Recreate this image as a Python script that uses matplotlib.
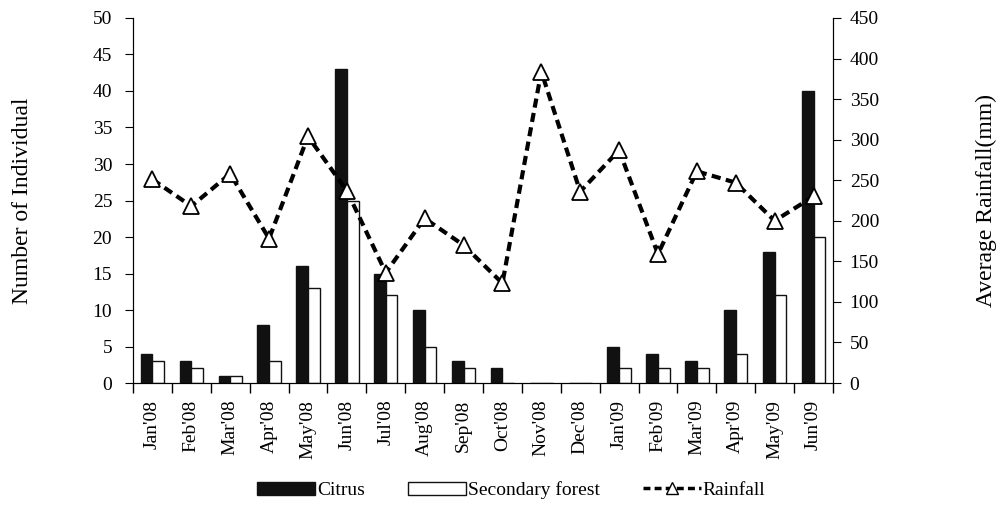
import numpy as np
import matplotlib.pyplot as plt
from matplotlib.lines import Line2D
from matplotlib.patches import Patch

plt.rcParams['font.family'] = ['Liberation Serif', 'DejaVu Serif']

months = ["Jan'08", "Feb'08", "Mar'08", "Apr'08", "May'08", "Jun'08", "Jul'08",
          "Aug'08", "Sep'08", "Oct'08", "Nov'08", "Dec'08", "Jan'09", "Feb'09",
          "Mar'09", "Apr'09", "May'09", "Jun'09"]
citrus = [4, 3, 1, 8, 16, 43, 15, 10, 3, 2, 0, 0, 5, 4, 3, 10, 18, 40]
secondary = [3, 2, 1, 3, 13, 25, 12, 5, 2, 0, 0, 0, 2, 2, 2, 4, 12, 20]
rainfall = [251, 218, 258, 178, 304, 237, 136, 203, 170, 123, 384, 236,
            287, 159, 261, 247, 200, 230]

fig = plt.figure(figsize=(10.02, 5.08), dpi=100)
ax = fig.add_axes([0.1327, 0.246, 0.6986, 0.7186])
x = np.arange(len(months))
w = 0.3
ax.bar(x - w / 2, citrus, w, color='#111111', edgecolor='#111111', linewidth=1)
ax.bar(x + w / 2, secondary, w, color='white', edgecolor='#111111', linewidth=1)
ax.set_xlim(-0.5, len(months) - 0.5)
ax.set_ylim(0, 50)
ax.set_yticks(range(0, 51, 5))
ax.set_xticks(np.arange(-0.5, len(months), 1), minor=False)
ax.set_xticklabels([])
ax.set_xticks(x, minor=True)
ax.set_xticklabels(months, minor=True, rotation=90, fontsize=14)
ax.tick_params(axis='x', which='major', direction='out', length=7, width=1)
ax.tick_params(axis='x', which='minor', length=0, pad=12)
ax.tick_params(axis='y', direction='out', length=6, labelsize=14, pad=9)
ax.spines['top'].set_visible(False)
ax.set_ylabel('Number of Individual', fontsize=17, labelpad=43)

ax2 = ax.twinx()
ax2.plot(x, rainfall, color='black', linestyle=(0, (2.2, 1.3)), linewidth=3,
         marker='^', markersize=12, markerfacecolor='white',
         markeredgecolor='black', markeredgewidth=1.3)
ax2.set_ylim(0, 450)
ax2.set_yticks(range(0, 451, 50))
ax2.tick_params(axis='y', direction='out', length=6, labelsize=14, pad=6)
ax2.spines['top'].set_visible(False)
ax2.spines['right'].set_linewidth(0.8)
ax2.set_ylabel('Average Rainfall(mm)', fontsize=17, labelpad=70)

handles = [Patch(facecolor='#111111', edgecolor='#111111'),
           Patch(facecolor='white', edgecolor='#111111'),
           Line2D([], [], color='black', linestyle=(0, (2, 1.2)), linewidth=2.5,
                  marker='^', markersize=9, markerfacecolor='white',
                  markeredgecolor='black')]
fig.legend(handles, ['Citrus', 'Secondary forest', 'Rainfall'],
           loc='center', bbox_to_anchor=(0.51, 0.035), ncol=3, frameon=False,
           fontsize=14, handlelength=3.0, handletextpad=0.1, columnspacing=2.2)

fig.savefig('out.png', dpi=100)
